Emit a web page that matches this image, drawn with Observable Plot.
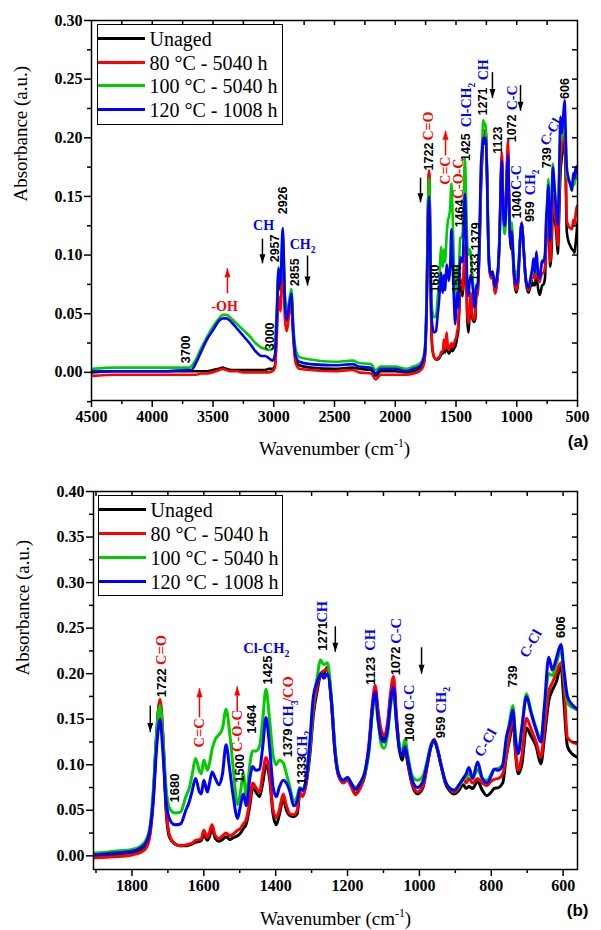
<!DOCTYPE html>
<html><head><meta charset="utf-8">
<script src="https://cdn.jsdelivr.net/npm/d3@7"></script>
<script src="https://cdn.jsdelivr.net/npm/@observablehq/plot@0.6"></script>
<style>
body{margin:0;background:#fff;}
#wrap{position:relative;width:601px;height:930px;overflow:hidden;background:#fff;}
.panel{position:absolute;left:0;}
.legend{position:absolute;border:1.5px solid #000;background:#fff;box-sizing:border-box;font-family:"Liberation Serif","Times New Roman",Tinos,"DejaVu Serif",serif;font-size:20px;}
.legend .ln{position:absolute;left:0;width:47px;height:3px;}
.legend .tx{position:absolute;left:52px;height:24px;line-height:24px;white-space:nowrap;color:#000;}
</style>
</head><body>
<div id="wrap"></div>
<script>
// ---------------- data ----------------
const wavenumber = [
4500,4300,4100,3900,3700,3680,3640,3600,3550,3500,
3450,3420,3390,3350,3300,3250,3200,3150,3100,3070,
3040,3010,2990,2975,2960,2945,2926,2908,2893,2872,
2855,2840,2820,2790,2700,2500,2350,2300,2200,2160,
2120,2000,1910,1850,1800,1775,1760,1750,1740,1732,
1722,1714,1705,1695,1680,1665,1650,1640,1632,1623,
1612,1607,1600,1590,1585,1577,1568,1558,1548,1538,
1528,1518,1506,1498,1490,1482,1472,1464,1455,1445,
1436,1427,1417,1407,1398,1390,1379,1370,1360,1350,
1340,1333,1325,1315,1305,1295,1285,1275,1266,1256,
1245,1235,1225,1212,1200,1190,1178,1165,1152,1140,
1130,1123,1115,1106,1098,1088,1080,1072,1064,1055,
1048,1040,1032,1020,1005,990,978,968,959,950,
940,928,915,903,890,878,870,862,852,838,
825,812,800,792,780,768,758,748,740,732,
725,715,702,690,675,662,652,640,630,620,
606,598,588,575,560,545,535,525,515,505,500];

const unaged = [
0.000,0.001,0.001,0.001,0.001,0.001,0.001,0.001,0.001,0.002,
0.003,0.004,0.003,0.002,0.002,0.002,0.002,0.002,0.002,0.002,
0.003,0.003,0.006,0.040,0.085,0.070,0.110,0.062,0.044,0.055,
0.064,0.035,0.012,0.006,0.004,0.003,0.004,0.003,0.002,-0.003,
0.001,0.001,0.000,0.001,0.003,0.006,0.011,0.025,0.070,0.130,
0.170,0.130,0.050,0.020,0.013,0.011,0.011,0.012,0.013,0.015,
0.016,0.017,0.023,0.017,0.020,0.030,0.019,0.016,0.018,0.021,
0.018,0.020,0.022,0.025,0.030,0.035,0.055,0.075,0.070,0.065,
0.080,0.100,0.085,0.045,0.034,0.045,0.062,0.050,0.044,0.043,
0.046,0.068,0.066,0.080,0.110,0.155,0.180,0.198,0.200,0.207,
0.170,0.115,0.088,0.082,0.085,0.078,0.068,0.075,0.088,0.120,
0.165,0.183,0.155,0.133,0.128,0.145,0.175,0.190,0.150,0.115,
0.105,0.118,0.100,0.078,0.068,0.075,0.100,0.120,0.127,0.117,
0.100,0.080,0.071,0.068,0.072,0.078,0.074,0.076,0.074,0.082,
0.072,0.066,0.070,0.074,0.075,0.080,0.110,0.130,0.150,0.110,
0.090,0.100,0.140,0.132,0.120,0.101,0.130,0.170,0.182,0.190,
0.208,0.170,0.120,0.112,0.108,0.105,0.104,0.102,0.110,0.122,0.128];

const aged80 = [
-0.003,-0.002,-0.002,-0.002,-0.002,-0.002,-0.002,-0.001,-0.001,0.000,
0.002,0.003,0.002,0.001,0.001,0.000,0.000,0.000,0.000,0.000,
0.000,0.001,0.004,0.030,0.065,0.052,0.097,0.045,0.035,0.050,
0.058,0.030,0.008,0.003,0.002,0.001,0.002,0.000,-0.001,-0.006,
-0.002,-0.002,-0.002,-0.001,0.001,0.004,0.009,0.022,0.065,0.125,
0.172,0.135,0.055,0.022,0.013,0.011,0.012,0.013,0.014,0.017,
0.018,0.019,0.028,0.020,0.025,0.034,0.022,0.019,0.022,0.025,
0.022,0.024,0.028,0.030,0.035,0.040,0.060,0.080,0.075,0.070,
0.090,0.108,0.090,0.050,0.042,0.050,0.068,0.055,0.046,0.045,
0.050,0.070,0.065,0.080,0.115,0.160,0.185,0.200,0.203,0.205,
0.170,0.115,0.088,0.080,0.083,0.076,0.067,0.074,0.090,0.125,
0.170,0.187,0.160,0.138,0.132,0.148,0.180,0.197,0.155,0.118,
0.110,0.120,0.103,0.080,0.070,0.077,0.100,0.120,0.128,0.118,
0.100,0.082,0.073,0.070,0.075,0.085,0.080,0.085,0.080,0.085,
0.080,0.077,0.082,0.084,0.085,0.090,0.110,0.135,0.155,0.115,
0.094,0.110,0.151,0.140,0.125,0.108,0.140,0.180,0.190,0.200,
0.212,0.190,0.130,0.125,0.123,0.122,0.130,0.125,0.135,0.142,0.142];

const aged100 = [
0.003,0.004,0.004,0.004,0.004,0.005,0.011,0.020,0.030,0.039,
0.046,0.049,0.049,0.046,0.041,0.036,0.031,0.025,0.021,0.020,
0.019,0.020,0.025,0.055,0.090,0.075,0.117,0.066,0.052,0.062,
0.071,0.042,0.020,0.013,0.011,0.009,0.010,0.008,0.007,0.002,
0.005,0.005,0.003,0.005,0.007,0.011,0.018,0.032,0.075,0.130,
0.165,0.130,0.075,0.052,0.047,0.048,0.065,0.075,0.090,0.107,
0.093,0.090,0.105,0.094,0.100,0.117,0.128,0.133,0.140,0.161,
0.135,0.095,0.056,0.070,0.090,0.065,0.100,0.115,0.115,0.120,
0.150,0.183,0.150,0.110,0.100,0.105,0.102,0.090,0.075,0.060,
0.065,0.075,0.072,0.085,0.120,0.170,0.195,0.215,0.210,0.212,
0.175,0.120,0.090,0.083,0.086,0.080,0.075,0.080,0.090,0.115,
0.160,0.175,0.148,0.122,0.118,0.135,0.165,0.180,0.145,0.120,
0.115,0.128,0.110,0.088,0.083,0.088,0.105,0.122,0.127,0.118,
0.100,0.082,0.074,0.072,0.077,0.083,0.086,0.090,0.085,0.095,
0.085,0.083,0.090,0.095,0.096,0.100,0.125,0.150,0.165,0.130,
0.113,0.140,0.178,0.160,0.140,0.128,0.160,0.200,0.198,0.210,
0.225,0.200,0.168,0.163,0.160,0.155,0.165,0.160,0.170,0.165,0.170];

const aged120 = [
0.001,0.001,0.001,0.001,0.002,0.002,0.008,0.017,0.028,0.036,
0.044,0.046,0.046,0.043,0.037,0.031,0.025,0.018,0.014,0.014,
0.012,0.010,0.015,0.048,0.088,0.075,0.123,0.060,0.045,0.058,
0.067,0.036,0.014,0.009,0.007,0.006,0.007,0.005,0.004,-0.001,
0.003,0.003,0.001,0.003,0.005,0.009,0.015,0.028,0.065,0.115,
0.150,0.115,0.060,0.040,0.034,0.035,0.050,0.060,0.072,0.085,
0.070,0.068,0.083,0.070,0.078,0.092,0.085,0.078,0.090,0.122,
0.095,0.065,0.041,0.055,0.068,0.055,0.085,0.098,0.094,0.095,
0.120,0.152,0.120,0.075,0.065,0.075,0.083,0.080,0.070,0.055,
0.060,0.074,0.072,0.085,0.125,0.175,0.190,0.200,0.195,0.200,
0.170,0.115,0.090,0.083,0.086,0.080,0.073,0.080,0.092,0.120,
0.165,0.180,0.150,0.128,0.125,0.140,0.170,0.185,0.148,0.115,
0.110,0.120,0.105,0.083,0.075,0.082,0.102,0.120,0.127,0.117,
0.100,0.082,0.074,0.072,0.078,0.085,0.090,0.097,0.085,0.103,
0.085,0.080,0.088,0.095,0.094,0.100,0.130,0.145,0.160,0.125,
0.112,0.140,0.175,0.158,0.138,0.125,0.165,0.218,0.204,0.215,
0.232,0.205,0.175,0.166,0.161,0.155,0.170,0.165,0.175,0.170,0.176];

const seriesNames = ["Unaged","80 °C - 5040 h","100 °C - 5040 h","120 °C - 1008 h"];
const seriesColors = ["#000000","#ff0000","#00cc00","#0000ff"];
const seriesValues = [unaged, aged80, aged100, aged120];

// tick values
const ticksA_xMajor = [4500,4000,3500,3000,2500,2000,1500,1000,500];
const ticksA_xMinor = [4250,3750,3250,2750,2250,1750,1250,750];
const ticksA_yMajor = [0,0.05,0.10,0.15,0.20,0.25,0.30];
const ticksA_yMinor = [-0.025,0.025,0.075,0.125,0.175,0.225,0.275];
const ticksB_xMajor = [1800,1600,1400,1200,1000,800,600];
const ticksB_xMinor = [1900,1700,1500,1300,1100,900,700];
const ticksB_yMajor = [0,0.05,0.10,0.15,0.20,0.25,0.30,0.35,0.40];
const ticksB_yMinor = [0.025,0.075,0.125,0.175,0.225,0.275,0.325,0.375];

// annotations: [text, wavenumber, absorbance, rotation]
const numsA = [
["3700",3726,0.0196,-90],["3000",3027,0.0307,-90],["2957",2986,0.1057,-90],["2926",2920,0.1466,-90],
["2855",2821,0.0853,-90],["1722",1726,0.184,-90],["1680",1669,0.080,-90],["1500",1488,0.080,-90],
["1464",1463,0.1355,-90],["1425",1415,0.192,-90],["1379",1336,0.116,-90],["1333",1344,0.0895,-90],
["1271",1274,0.231,-90],["1123",1158,0.198,-90],["1072",1035,0.208,-90],["1040",1000,0.143,-90],
["959",890,0.137,-90],["739",747,0.183,-90],["606",599,0.242,-90]];
const redA = [["C=O",1726,0.21,-90],["C=C",1586,0.172,-90],["C-O-C",1479,0.165,-90],["-OH",3405,0.0563,0]];
const blueA = [["CH",3084,0.125,0],["CH_2",2763,0.109,0],["Cl-CH_2",1415,0.228,-90],["CH",1274,0.258,-90],
["C-C",1035,0.234,-90],["C-C",1003,0.166,-90],["CH_2",890,0.162,-90],["C-Cl",722,0.205,-60]];
const arrowsA = [[3093,0.114,0.093,"k"],[3381,0.0673,0.0887,"r"],[2722,0.0997,0.074,"k"],[1792,0.166,0.145,"k"],
[1586,0.185,0.206,"r"],[1200,0.256,0.234,"k"],[969,0.245,0.223,"k"]];

const numsB = [
["1722",1718,0.190,-90],["1680",1682,0.0745,-90],["1500",1501,0.096,-90],["1464",1465,0.150,-90],
["1425",1422,0.204,-90],["1379",1366,0.124,-90],["1333",1328,0.094,-90],["1271",1270,0.241,-90],
["1123",1136,0.203,-90],["1072",1065,0.214,-90],["1040",1027,0.141,-90],["959",939,0.141,-90],
["739",740,0.197,-90],["606",606,0.251,-90]];
const redB = [["C=O",1718,0.226,-90],["C=C",1612,0.135,-90],["C-O-C",1507,0.137,-90],["/CO",1364,0.183,-90]];
const blueB = [["Cl-CH_2",1426,0.228,0],["CH_3",1364,0.156,-90],["CH_2",1326,0.123,-90],["CH",1270,0.268,-90],
["CH",1136,0.237,-90],["C-C",1065,0.247,-90],["C-C",1027,0.174,-90],["CH_2",939,0.171,-90],
["C-Cl",816,0.124,-60],["C-Cl",690,0.233,-60]];
const arrowsB = [[1749,0.165,0.136,"k"],[1612,0.152,0.184,"r"],[1507,0.158,0.186,"r"],[1234,0.252,0.224,"k"],[994,0.229,0.200,"k"]];

// ---------------- drawing ----------------
const SERIF = '"Liberation Serif","Times New Roman",Tinos,"DejaVu Serif",serif';
const SANS = '"Liberation Sans",Arial,Arimo,"DejaVu Sans",sans-serif';
const head = {draw(ctx){ctx.moveTo(0,0);ctx.lineTo(3,9);ctx.lineTo(-3,9);ctx.closePath();}};
const toObj = a => a.map(d=>({t:d[0],x:d[1],y:d[2],r:d[3]}));
const toArr = a => a.map(d=>({x:d[0],y1:d[1],y2:d[2],c:d[3]==="r"?"#ff0000":"#000000",rot:d[2]>d[1]?0:180}));

function makePanel(cfg){
  const W=601, innerW=W-cfg.ml-cfg.mr, innerH=cfg.height-cfg.mt-cfg.mb;
  const marks=[];
  seriesValues.forEach((vals,k)=>{
    const rows=wavenumber.map((w,i)=>({w,v:vals[i]}));
    marks.push(Plot.line(rows,{x:"w",y:"v",stroke:seriesColors[k],strokeWidth:cfg.lw,curve:"monotone-x",clip:true}));
  });
  marks.push(
    Plot.frame({stroke:"#000",strokeWidth:1.5}),
    Plot.axisX({ticks:cfg.xMajor,anchor:"bottom",tickSize:7,tickPadding:3,tickFormat:d=>String(d),
      fontFamily:SERIF,fontWeight:"bold",fontSize:16,strokeWidth:1.5,label:null}),
    Plot.axisX({ticks:cfg.xMinor,anchor:"bottom",tickSize:4,tickFormat:()=>"",strokeWidth:1.5,label:null}),
    Plot.axisY({ticks:cfg.yMajor,anchor:"left",tickSize:7,tickPadding:2,tickFormat:d3.format(".2f"),
      fontFamily:SERIF,fontWeight:"bold",fontSize:16,strokeWidth:1.5,label:null}),
    Plot.axisY({ticks:cfg.yMinor,anchor:"left",tickSize:4,tickFormat:()=>"",strokeWidth:1.5,label:null}),
    Plot.tickX(cfg.xTop,{x:d=>d,insetBottom:innerH-5,stroke:"#000",strokeWidth:1.5}),
    Plot.tickY(cfg.yRight,{y:d=>d,insetLeft:innerW-5,stroke:"#000",strokeWidth:1.5}),
    Plot.text(toObj(cfg.nums),{x:"x",y:"y",text:"t",rotate:"r",fill:"#000",fontFamily:SANS,fontWeight:"bold",fontSize:cfg.numSize}),
    Plot.text(toObj(cfg.red),{x:"x",y:"y",text:"t",rotate:"r",fill:"#ff0000",fontFamily:SERIF,fontWeight:"bold",fontSize:cfg.labSize}),
    Plot.text(toObj(cfg.blue),{x:"x",y:"y",text:"t",rotate:"r",fill:"#0000ff",fontFamily:SERIF,fontWeight:"bold",fontSize:cfg.labSize}),
    Plot.link(toArr(cfg.arrows),{x1:"x",x2:"x",y1:"y1",y2:"y2",stroke:"c",strokeWidth:1.5}),
    Plot.dot(toArr(cfg.arrows),{x:"x",y:"y2",symbol:head,rotate:"rot",fill:"c",stroke:null}),
    Plot.text([0],{frameAnchor:"bottom",dy:cfg.xTitleDy,text:["Wavenumber (cm^-1)"],fontFamily:SERIF,fontSize:19,fill:"#000"}),
    Plot.text([0],{frameAnchor:"left",dx:cfg.yTitleDx,dy:cfg.yTitleDy,rotate:-90,text:["Absorbance (a.u.)"],fontFamily:SERIF,fontSize:19,fill:"#000"}),
    Plot.text([0],{frameAnchor:"bottom-right",dx:11,dy:cfg.tagDy,text:[cfg.tag],fontFamily:SANS,fontWeight:"bold",fontSize:17,fill:"#000"})
  );
  return Plot.plot({
    width:W,height:cfg.height,marginLeft:cfg.ml,marginRight:cfg.mr,marginTop:cfg.mt,marginBottom:cfg.mb,
    x:{domain:cfg.xDomain},y:{domain:cfg.yDomain},
    color:{type:"identity"},
    style:{fontFamily:SERIF,fontSize:"16px",background:"transparent",overflow:"visible"},
    marks
  });
}

function richText(svg){
  svg.querySelectorAll("text").forEach(t=>{
    const s=t.textContent;
    if(!/_\d|\^-1/.test(s)) return;
    const fs=parseFloat(getComputedStyle(t).fontSize)||14;
    const parts=s.split(/(_\d|\^-1)/).filter(p=>p!=="");
    t.textContent="";
    let shift=0;
    for(const p of parts){
      const ts=document.createElementNS("http://www.w3.org/2000/svg","tspan");
      if(p[0]==="_"){ts.textContent=p.slice(1);ts.setAttribute("dy",(0.3*fs).toFixed(2));ts.setAttribute("font-size",(0.68*fs).toFixed(2));shift=0.3*fs;}
      else if(p[0]==="^"){ts.textContent=p.slice(1);ts.setAttribute("dy",(-0.42*fs).toFixed(2));ts.setAttribute("font-size",(0.62*fs).toFixed(2));shift=-0.42*fs;}
      else{ts.textContent=p;if(shift!==0){ts.setAttribute("dy",(-shift).toFixed(2));shift=0;}}
      t.appendChild(ts);
    }
  });
}

function addLegend(wrap,left,top,w,h,centers){
  const box=document.createElement("div");
  box.className="legend";
  Object.assign(box.style,{left:left+"px",top:top+"px",width:w+"px",height:h+"px"});
  seriesNames.forEach((n,k)=>{
    const c=centers[k]-1.5;
    const ln=document.createElement("div");ln.className="ln";
    ln.style.top=(c-1.5)+"px";ln.style.background=seriesColors[k];
    const tx=document.createElement("div");tx.className="tx";
    tx.style.top=(c-12)+"px";tx.textContent=n;
    box.appendChild(ln);box.appendChild(tx);
  });
  wrap.appendChild(box);
}

const wrap=document.getElementById("wrap");

const svgA=makePanel({height:460,ml:91,mr:24,mt:20,mb:60,xDomain:[4500,500],yDomain:[-0.024,0.30],lw:2.6,
  xMajor:ticksA_xMajor,xMinor:ticksA_xMinor,xTop:d3.range(4250,500,-250),
  yMajor:ticksA_yMajor,yMinor:ticksA_yMinor,yRight:d3.range(0,0.3,0.025),
  nums:numsA,red:redA,blue:blueA,arrows:arrowsA,numSize:12.5,labSize:14,
  xTitleDy:54,yTitleDx:-71,yTitleDy:-9,tag:"(a)",tagDy:46});
const dA=document.createElement("div");dA.className="panel";dA.style.top="0px";dA.appendChild(svgA);wrap.appendChild(dA);

const svgB=makePanel({height:470,ml:93,mr:24,mt:31,mb:61,xDomain:[1907,560],yDomain:[-0.015,0.40],lw:3,
  xMajor:ticksB_xMajor,xMinor:ticksB_xMinor,xTop:d3.range(1900,560,-100),
  yMajor:ticksB_yMajor,yMinor:ticksB_yMinor,yRight:d3.range(0.025,0.4,0.025),
  nums:numsB,red:redB,blue:blueB,arrows:arrowsB,numSize:13,labSize:14.5,
  xTitleDy:55,yTitleDx:-71,yTitleDy:-5,tag:"(b)",tagDy:46});
const dB=document.createElement("div");dB.className="panel";dB.style.top="460px";dB.appendChild(svgB);wrap.appendChild(dB);

richText(svgA);richText(svgB);

addLegend(wrap,96.5,23.5,186.5,101,[15.5,39.5,62.5,86.5]);
addLegend(wrap,97.5,494.5,185,101,[15.5,39.5,63.5,87.5]);
</script>
</body></html>
